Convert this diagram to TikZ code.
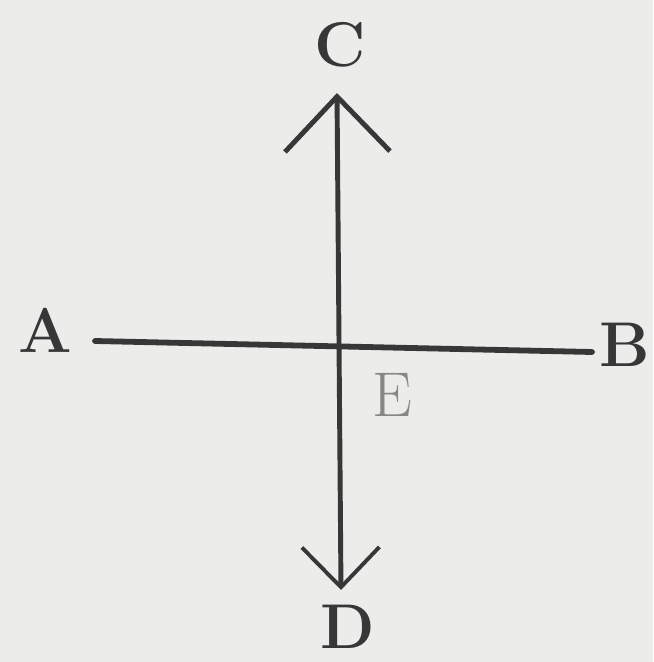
\documentclass[tikz,border=0pt]{standalone}
\usepackage{tikz}
\usetikzlibrary{arrows.meta, positioning, calc}
\definecolor{ink}{RGB}{55,55,55}
\definecolor{paper}{RGB}{236,236,234}

\begin{document}
\begin{tikzpicture}[
    x=0.02cm, y=-0.02cm,
    letter/.style={inner sep=0pt, text=ink, font=\fontsize{36}{40}\selectfont\bfseries},
    faint/.style={inner sep=0pt, text=ink!60, font=\fontsize{36}{40}\selectfont},
    stroke/.style={line width=3.3pt, draw=ink, line cap=round}
]
    % Paper
    \fill[paper] (0,0) rectangle (653,662);
    \useasboundingbox (0,0) rectangle (653,662);

    \node[letter] (A) at (45,330) {A};
    \node[letter] (B) at (625,345) {B};
    \node[letter] (C) at (340,45) {C};
    \node[letter] (D) at (348,627) {D};
    \node[faint] (E) at (392,395) {E};

    \coordinate (a) at (95,341);
    \coordinate (b) at (592,352);
    \coordinate (c) at (337,93);
    \coordinate (d) at (341,590);

    % Horizontal line
    \draw[stroke] (a) -- (b);

    % Vertical line with arrows
    \draw[stroke, line width=2.8pt,
        {Straight Barb[length=1.1cm, width=2.1cm, line width=2.8pt]}-{Straight Barb[length=0.8cm, width=1.55cm, line width=2.2pt]}]
        (c) -- (d);
\end{tikzpicture}
\end{document}
